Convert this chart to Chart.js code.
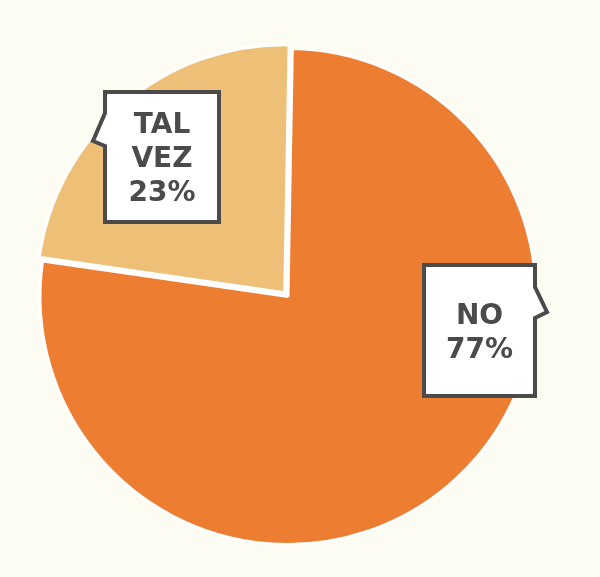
<!DOCTYPE html>
<html>
<head>
<meta charset="utf-8">
<script src="https://cdn.jsdelivr.net/npm/chart.js@4"></script>
<style>
  html, body { margin: 0; padding: 0; background: #FDFCF3; }
  #wrap { width: 600px; height: 577px; }
</style>
</head>
<body>
<div id="wrap"><canvas id="chart-area"></canvas></div>
<script>
var labels = ['NO', 'TAL VEZ'];
var values = [77, 23];
var colors = ['#ED7D31', '#EEC077'];
var offsets = [0, 20];

// callout boxes, relative to pie centre, for a 248px radius
var boxes = [
    { x0: 136, x1: 247, y0: -31.5, y1: 99.5, side: 'right', n0: -9.5, n1: 21.5, tx: 259, ty: 15.5 },
    { x0: -183, x1: -69, y0: -204.5, y1: -74.5, side: 'left', n0: -183.5, n1: -150.5, tx: -195, ty: -155.5 }
];

var calloutPlugin = {
    id: 'callouts',
    afterDatasetsDraw: function(chart) {
        var ctx = chart.ctx;
        var arc = chart.getDatasetMeta(0).data[0];
        var cx = arc.x, cy = arc.y, k = arc.outerRadius / 248;
        boxes.forEach(function(b, i) {
            var X = function(v) { return cx + v * k; };
            var Y = function(v) { return cy + v * k; };
            ctx.save();
            ctx.beginPath();
            ctx.moveTo(X(b.x0), Y(b.y0));
            ctx.lineTo(X(b.x1), Y(b.y0));
            if (b.side === 'right') {
                ctx.lineTo(X(b.x1), Y(b.n0));
                ctx.lineTo(X(b.tx), Y(b.ty));
                ctx.lineTo(X(b.x1), Y(b.n1));
            }
            ctx.lineTo(X(b.x1), Y(b.y1));
            ctx.lineTo(X(b.x0), Y(b.y1));
            if (b.side === 'left') {
                ctx.lineTo(X(b.x0), Y(b.n1));
                ctx.lineTo(X(b.tx), Y(b.ty));
                ctx.lineTo(X(b.x0), Y(b.n0));
            }
            ctx.closePath();
            ctx.fillStyle = '#FFFFFF';
            ctx.fill();
            ctx.lineWidth = 4;
            ctx.lineJoin = 'miter';
            ctx.strokeStyle = '#4B4B4B';
            ctx.stroke();

            var lines = labels[i].split(' ').concat([values[i] + '%']);
            var mx = X((b.x0 + b.x1) / 2), my = Y((b.y0 + b.y1) / 2);
            var lh = 34;
            ctx.fillStyle = '#4B4B4B';
            ctx.font = 'bold 28px "DejaVu Sans", sans-serif';
            ctx.textAlign = 'center';
            ctx.textBaseline = 'alphabetic';
            lines.forEach(function(t, j) {
                var y = my + (j - (lines.length - 1) / 2) * lh + 10;
                ctx.fillText(t, mx, y);
            });
            ctx.restore();
        });
    }
};

var config = {
    type: 'pie',
    data: {
        labels: labels,
        datasets: [{
            data: values,
            backgroundColor: colors,
            borderColor: '#FFFFFF',
            borderWidth: 3,
            offset: offsets
        }]
    },
    options: {
        responsive: true,
        maintainAspectRatio: false,
        animation: false,
        events: [],
        rotation: 1,
        radius: 248,
        layout: { padding: { left: 0, right: 24, top: 16, bottom: 0 } },
        plugins: {
            legend: { display: false },
            tooltip: { enabled: false }
        }
    },
    plugins: [calloutPlugin]
};

window.onload = function() {
    var ctx = document.getElementById('chart-area').getContext('2d');
    new Chart(ctx, config);
};
</script>
</body>
</html>
